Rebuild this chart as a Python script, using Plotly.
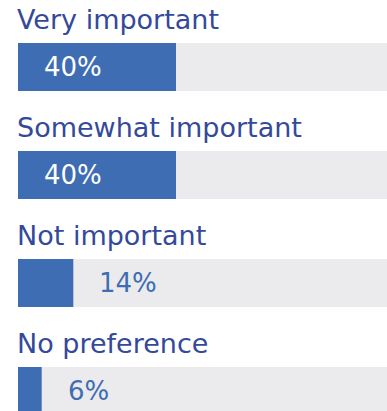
import plotly.graph_objects as go

# Survey responses: share of respondents per answer
categories = ["Very important", "Somewhat important", "Not important", "No preference"]
shares = [40, 40, 14, 6]
value_labels = ["40%", "40%", "14%", "6%"]

BAR_BLUE = "#3e6db4"
TRACK_GREY = "#ebebed"
TITLE_BLUE = "#34499a"
FONT = "DejaVu Sans"

positions = list(range(len(categories)))
bar_width = 0.444

fig = go.Figure()

# full-length grey track behind each bar
fig.add_trace(go.Bar(
    x=[100] * len(categories), y=positions, orientation="h",
    width=bar_width, marker=dict(color=TRACK_GREY, line=dict(width=0)),
    hoverinfo="skip", showlegend=False,
))
# the value bars
fig.add_trace(go.Bar(
    x=shares, y=positions, orientation="h",
    width=bar_width, marker=dict(color=BAR_BLUE, line=dict(width=0)),
    showlegend=False,
))

annotations = []
for pos, cat, val, lab in zip(positions, categories, shares, value_labels):
    # category heading above the bar
    annotations.append(dict(
        x=0, y=pos - 0.44, xref="x", yref="y", text=cat,
        xanchor="left", yanchor="middle", showarrow=False, xshift=-3,
        font=dict(family=FONT, size=27, color=TITLE_BLUE),
    ))
    inside = val >= 20
    annotations.append(dict(
        x=0 if inside else val, y=pos, xref="x", yref="y", text=lab,
        xanchor="left", yanchor="middle", showarrow=False, xshift=24,
        font=dict(family=FONT, size=26, color="white" if inside else BAR_BLUE),
    ))

fig.update_layout(
    width=387, height=411,
    margin=dict(l=18, r=0, t=0, b=0),
    paper_bgcolor="white", plot_bgcolor="white",
    barmode="overlay",
    xaxis=dict(range=[0, 93.42], visible=False, fixedrange=True),
    yaxis=dict(range=[3.185, -0.620], visible=False, fixedrange=True),
    annotations=annotations,
)

fig.write_html("out.html")
